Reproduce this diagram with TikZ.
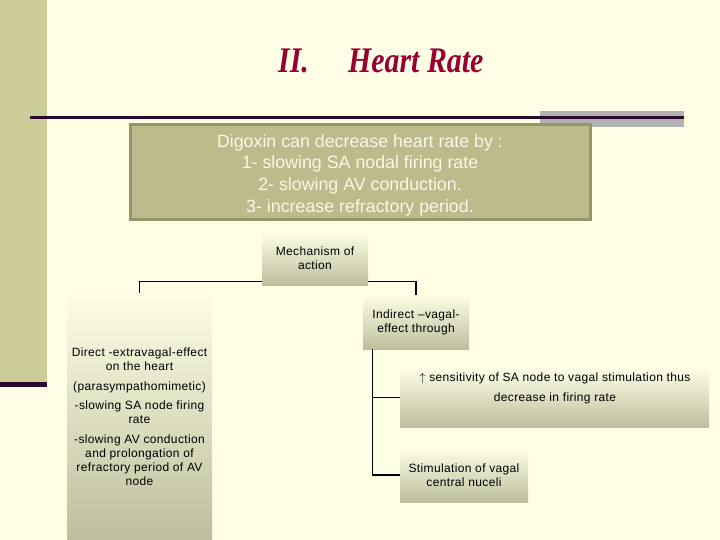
\documentclass[tikz,border=0pt]{standalone}
\usepackage{fontspec}
\setmainfont{Liberation Sans}
\newfontfamily\titlefont{Liberation Serif}
\newfontfamily\spacedfont[LetterSpace=3]{Liberation Sans}
\definecolor{bg}{RGB}{255,255,230}
\definecolor{band}{RGB}{204,204,153}
\definecolor{darkline}{RGB}{45,8,45}
\definecolor{grayblk}{RGB}{178,178,176}
\definecolor{boxfill}{RGB}{187,187,140}
\definecolor{boxedge}{RGB}{150,150,105}
\definecolor{boxtext}{RGB}{248,248,232}
\definecolor{gradtop}{RGB}{254,254,230}
\definecolor{gradbot}{RGB}{190,190,158}
\definecolor{titlered}{RGB}{150,0,50}
\tikzset{
  x=1pt, y=-1pt,
  mainbox/.style={draw=boxedge, line width=3pt, fill=boxfill, text=boxtext,
    align=center, font=\fontsize{17.8}{21.7}\selectfont, inner sep=0pt},
  gradbox/.style={top color=gradtop, bottom color=gradbot, draw=none,
    align=center, font=\spacedfont\fontsize{12}{14}\selectfont, inner sep=0pt},
  conn/.style={draw=black, line width=1.1pt},
  titletxt/.style={text=titlered, font=\titlefont\bfseries\itshape\fontsize{36}{40}\selectfont, xscale=0.83, inner sep=0pt}
}
\begin{document}
\begin{tikzpicture}
\fill[bg] (0,0) rectangle (720,540);
\useasboundingbox (0,0) rectangle (720,540);
% left band
\fill[band] (0,0) rectangle (47,382);
\fill[darkline] (0,382) rectangle (47,387);
% title rule
\fill[grayblk] (540,111) rectangle (684,127);
\fill[darkline] (30,116) rectangle (684,119);
% title
\node[titletxt, anchor=base west] (t1) at (278,73) {II.};
\node[titletxt, anchor=base west] (t2) at (348,73) {Heart Rate};
% main box
\node[mainbox, minimum width=460, minimum height=95] (dig) at (360,172.5) {};
\node[align=center, text=boxtext, font=\fontsize{17.8}{21.7}\selectfont, inner sep=0pt] (digtxt) at (360,175)
  {Digoxin can decrease heart rate by :\\1- slowing SA nodal firing rate\\2- slowing AV conduction.\\3- increase refractory period.};
% direct box
\node[gradbox, minimum width=145, minimum height=247] (direct) at (139.5,416.5)
  {Direct -extravagal-effect\\on the heart\\[6pt] (parasympathomimetic)\\[5pt]-slowing SA node firing\\rate\\[6pt]-slowing AV conduction\\and prolongation of\\refractory period of AV\\node};
% indirect box
\node[gradbox, minimum width=106, minimum height=54] (indir) at (416,322)
  {Indirect –vagal-\\effect through};
% connector from mechanism
\draw[conn] (direct.north) -- ++(0,-11) -| (indir.north);
% mechanism box
\node[gradbox, minimum width=106, minimum height=53] (mech) at (315,258.5)
  {Mechanism of\\action};
% sensitivity box
\node[gradbox, minimum width=309, minimum height=59] (sens) at (554.5,397.5) {};
\node[align=center, font=\spacedfont\fontsize{12}{20}\selectfont, inner sep=0pt] (senstxt) at (555,388)
  {$\uparrow$ sensitivity of SA node to vagal stimulation thus\\decrease in firing rate};
% stimulation box
\node[gradbox, minimum width=128, minimum height=54] (stim) at (464,475)
  {Stimulation of vagal\\central nuceli};
% indirect branches
\coordinate (trunk) at ([xshift=10pt]indir.south west);
\draw[conn] (trunk) |- (sens.west);
\draw[conn] (trunk) |- (stim.west);
\end{tikzpicture}
\end{document}
